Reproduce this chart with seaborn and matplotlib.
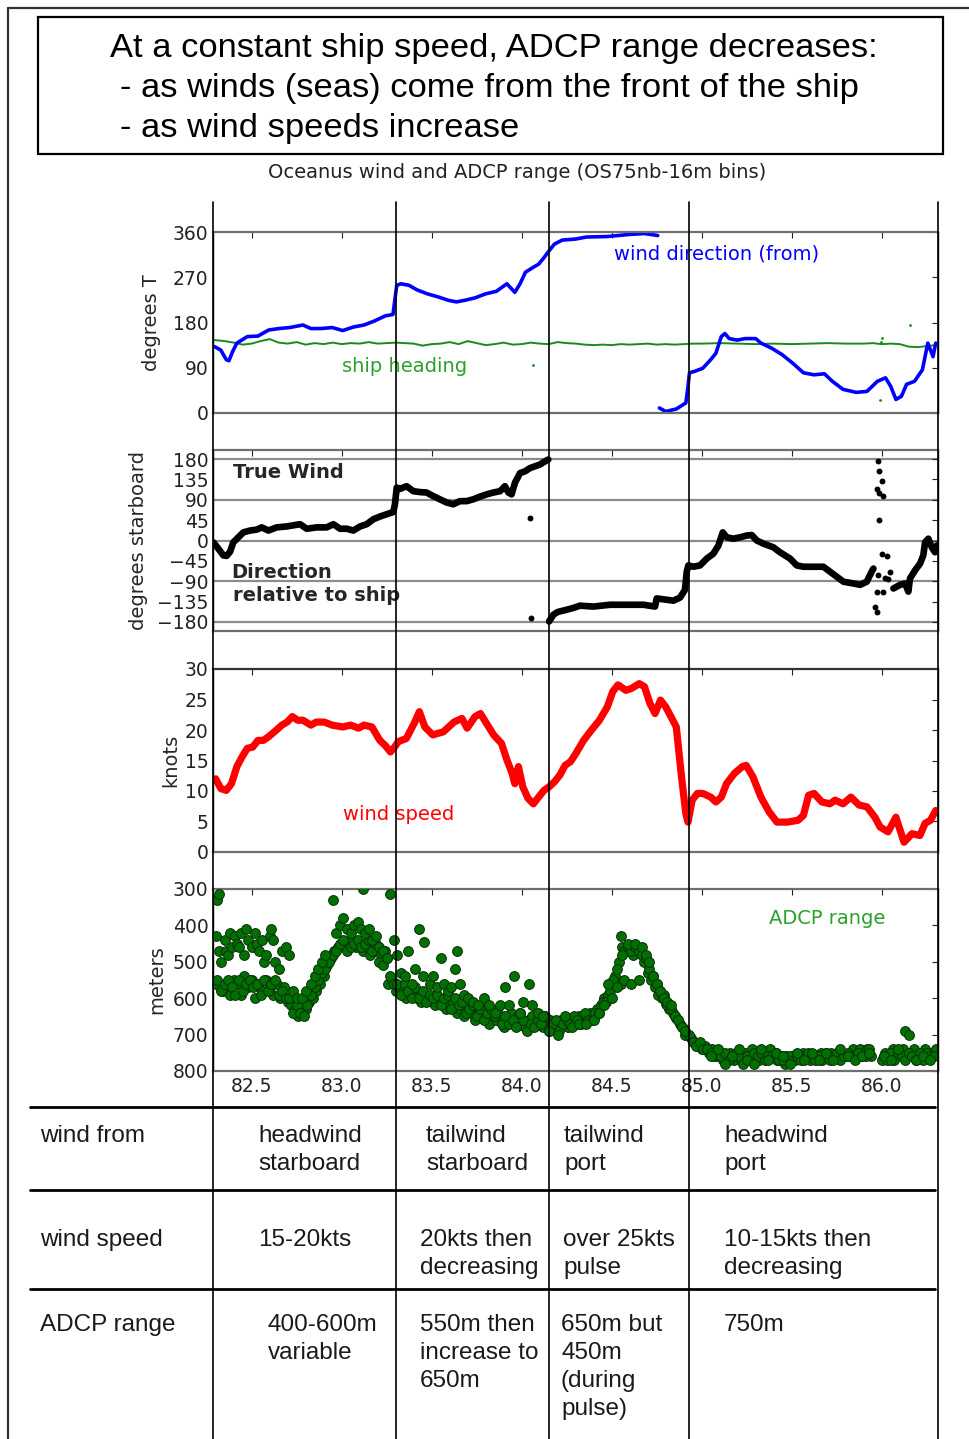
import matplotlib
matplotlib.use("Agg")
import matplotlib.pyplot as plt
from matplotlib.lines import Line2D
from matplotlib.patches import Rectangle
import pandas as pd
import seaborn as sns

# ---------------- data ----------------
# wind direction (degrees true, "from"); segment 1 starts after the 360 -> 0 wrap
wdir_time = [82.294, 82.329, 82.359, 82.374, 82.394, 82.418, 82.476, 82.535, 82.594, 82.653,
             82.712, 82.785, 82.829, 82.888, 82.947, 83.006, 83.065, 83.124, 83.182, 83.241,
             83.285, 83.306, 83.329, 83.374, 83.418, 83.476, 83.535, 83.594, 83.638, 83.682,
             83.741, 83.800, 83.859, 83.918, 83.962, 83.991, 84.021, 84.065, 84.094, 84.124,
             84.153, 84.182, 84.226, 84.300, 84.359, 84.476, 84.594, 84.682, 84.756,
             84.765, 84.800, 84.859, 84.912, 84.924, 84.932, 84.962, 85.006, 85.050, 85.079,
             85.109, 85.129, 85.153, 85.197, 85.241, 85.300, 85.329, 85.388, 85.447, 85.506,
             85.565, 85.624, 85.682, 85.726, 85.785, 85.859, 85.918, 85.947, 85.976, 86.021,
             86.050, 86.079, 86.109, 86.138, 86.182, 86.226, 86.256, 86.285, 86.300]
wdir_deg = [132, 125, 106, 104, 122, 139, 152, 153, 165, 168,
            170, 175, 168, 168, 170, 164, 171, 175, 183, 193,
            196, 254, 257, 254, 245, 237, 231, 224, 221, 224,
            229, 237, 242, 257, 240, 257, 280, 290, 296, 309,
            323, 336, 344, 346, 350, 351, 355, 357, 353,
            10, 3, 8, 20, 53, 80, 83, 89, 106, 119,
            152, 158, 148, 145, 148, 148, 139, 129, 116, 99,
            80, 76, 78, 63, 47, 41, 43, 53, 63, 70,
            53, 27, 33, 57, 63, 86, 139, 112, 139]
wdir_seg = [0] * 49 + [1] * 39

# ship heading (degrees true)
head_time = [82.294, 82.35, 82.40, 82.45, 82.50, 82.55, 82.60, 82.65, 82.70, 82.75,
             82.80, 82.85, 82.90, 82.95, 83.00, 83.05, 83.10, 83.15, 83.20, 83.25,
             83.30, 83.35, 83.40, 83.45, 83.50, 83.55, 83.60, 83.65, 83.70, 83.75,
             83.80, 83.85, 83.90, 83.95, 84.00, 84.05, 84.10, 84.15, 84.20, 84.25,
             84.30, 84.35, 84.40, 84.45, 84.50, 84.55, 84.60, 84.65, 84.70, 84.75,
             84.80, 84.85, 84.90, 84.95, 85.00, 85.10, 85.20, 85.30, 85.40, 85.50,
             85.60, 85.70, 85.80, 85.90, 85.95, 86.00, 86.05, 86.10, 86.15, 86.20,
             86.25, 86.30]
head_deg = [145, 143, 140, 136, 138, 143, 147, 140, 138, 141,
            136, 139, 137, 140, 137, 139, 138, 141, 138, 139,
            140, 139, 138, 134, 137, 138, 141, 137, 143, 139,
            135, 137, 140, 136, 137, 140, 138, 137, 141, 139,
            138, 136, 135, 136, 135, 137, 136, 137, 138, 136,
            137, 136, 137, 138, 138, 139, 138, 137, 138, 137,
            138, 139, 138, 138, 139, 137, 138, 137, 132, 131,
            133, 135]
head_stray_time = [84.065, 85.990, 85.996, 86.004, 86.155]
head_stray_deg = [96, 26, 141, 150, 175]

# true wind direction relative to ship (degrees, + = starboard)
rel_time = [82.287, 82.315, 82.343, 82.361, 82.380, 82.398, 82.426, 82.454, 82.491, 82.528,
            82.556, 82.593, 82.639, 82.694, 82.769, 82.806, 82.861, 82.917, 82.954, 82.991,
            83.028, 83.065, 83.102, 83.139, 83.176, 83.213, 83.250, 83.287, 83.296, 83.306,
            83.324, 83.361, 83.398, 83.435, 83.472, 83.509, 83.546, 83.583, 83.620, 83.657,
            83.694, 83.731, 83.769, 83.806, 83.843, 83.880, 83.907, 83.926, 83.944, 83.963,
            83.991, 84.019, 84.046, 84.074, 84.102, 84.130, 84.148,
            84.152, 84.176, 84.200, 84.250, 84.287, 84.324, 84.398, 84.491, 84.583, 84.676,
            84.741, 84.750, 84.787, 84.843, 84.880, 84.907, 84.917, 84.926, 84.954, 84.991,
            85.028, 85.065, 85.093, 85.117, 85.139, 85.176, 85.213, 85.250, 85.278, 85.306,
            85.343, 85.398, 85.435, 85.491, 85.528, 85.565, 85.620, 85.676, 85.713, 85.750,
            85.787, 85.843, 85.880, 85.917, 85.944, 85.954,
            86.065, 86.102, 86.130, 86.148, 86.157, 86.185, 86.213, 86.231, 86.241, 86.259,
            86.278, 86.296, 86.306]
rel_deg = [-4, -18, -33, -34, -25, -4, 7, 18, 22, 24,
           29, 22, 29, 31, 36, 26, 29, 29, 36, 26,
           26, 22, 31, 36, 47, 53, 58, 63, 80, 117,
           114, 120, 109, 107, 106, 98, 91, 84, 80, 87,
           87, 91, 97, 102, 106, 109, 120, 106, 102, 128,
           149, 153, 160, 164, 168, 175, 179,
           -179, -164, -158, -153, -149, -144, -146, -142, -142, -142,
           -146, -128, -130, -133, -126, -109, -69, -55, -58, -55,
           -40, -29, -11, 18, 7, 4, 7, 11, 12, 0,
           -7, -15, -26, -40, -55, -58, -58, -58, -69, -80,
           -91, -95, -98, -91, -69, -62,
           -106, -98, -95, -113, -84, -66, -51, -33, -4, 4,
           -15, -26, -11]
rel_seg = [0] * 57 + [1] * 46 + [2] * 13
rel_stray_time = [84.046, 84.052, 85.981, 85.987, 86.000, 85.972, 85.987, 86.009, 85.987,
                  86.000, 86.028, 86.046, 85.981, 86.019, 86.037, 85.972, 86.009, 85.963, 85.976]
rel_stray_deg = [50, -172, 175, 153, 131, 113, 106, 98, 45,
                 -29, -34, -69, -77, -82, -84, -113, -114, -146, -158]

# wind speed (knots)
spd_time = [82.300, 82.329, 82.359, 82.388, 82.418, 82.447, 82.476, 82.506, 82.535, 82.565,
            82.594, 82.638, 82.668, 82.697, 82.726, 82.756, 82.785, 82.829, 82.859, 82.903,
            82.947, 83.006, 83.050, 83.094, 83.124, 83.168, 83.212, 83.241, 83.271, 83.294,
            83.315, 83.359, 83.403, 83.432, 83.462, 83.506, 83.565, 83.624, 83.668, 83.697,
            83.741, 83.771, 83.800, 83.844, 83.888, 83.918, 83.947, 83.962, 83.982, 84.006,
            84.035, 84.065, 84.094, 84.124, 84.153, 84.182, 84.212, 84.241, 84.271, 84.300,
            84.344, 84.388, 84.432, 84.476, 84.506, 84.535, 84.579, 84.609, 84.653, 84.682,
            84.712, 84.741, 84.771, 84.800, 84.829, 84.859, 84.888, 84.912, 84.924, 84.947,
            84.976, 85.006, 85.050, 85.079, 85.109, 85.138, 85.182, 85.226, 85.247, 85.285,
            85.329, 85.374, 85.418, 85.476, 85.535, 85.565, 85.594, 85.624, 85.668, 85.712,
            85.741, 85.785, 85.829, 85.874, 85.918, 85.962, 85.991, 86.035, 86.079, 86.124,
            86.168, 86.212, 86.241, 86.271, 86.300]
spd_kts = [12.0, 10.4, 10.1, 11.2, 14.0, 15.6, 17.0, 17.2, 18.3, 18.3,
           18.9, 20.0, 20.8, 21.3, 22.2, 21.6, 21.6, 20.8, 21.3, 21.3,
           20.8, 20.5, 20.8, 20.3, 20.8, 20.5, 18.3, 17.5, 16.4, 17.2,
           18.1, 18.6, 21.1, 23.0, 20.5, 19.2, 19.7, 21.3, 21.9, 20.3,
           22.2, 22.7, 21.3, 19.2, 17.8, 15.1, 12.9, 11.2, 14.0, 10.7,
           8.8, 7.9, 9.0, 10.1, 10.7, 11.5, 12.6, 14.2, 14.8, 16.1,
           18.3, 20.0, 21.6, 23.8, 26.3, 27.4, 26.5, 26.8, 27.6, 27.1,
           24.4, 22.7, 24.9, 23.8, 22.2, 20.5, 12.3, 6.3, 4.9, 8.5,
           9.6, 9.6, 9.0, 8.2, 9.0, 11.2, 12.9, 14.0, 14.2, 12.3,
           9.0, 6.6, 4.9, 4.9, 5.2, 6.0, 9.3, 9.6, 8.2, 7.9,
           8.5, 7.9, 9.0, 7.7, 7.4, 5.7, 4.1, 3.3, 5.7, 1.6,
           3.0, 2.7, 4.7, 5.2, 6.8]

# ADCP range (meters), first return set on even hundredths ...
adcp_time = [82.30, 82.32, 82.34, 82.36, 82.38, 82.40, 82.42, 82.44, 82.46, 82.48,
             82.50, 82.52, 82.54, 82.56, 82.58, 82.60, 82.62, 82.64, 82.66, 82.68,
             82.70, 82.72, 82.74, 82.76, 82.78, 82.80, 82.82, 82.84, 82.86, 82.88,
             82.90, 82.92, 82.94, 82.96, 82.98, 83.00, 83.02, 83.04, 83.06, 83.08,
             83.10, 83.12, 83.14, 83.16, 83.18, 83.20, 83.22, 83.24, 83.26, 83.28,
             83.30, 83.32, 83.34, 83.36, 83.38, 83.40, 83.42, 83.44, 83.46, 83.48,
             83.50, 83.52, 83.54, 83.56, 83.58, 83.60, 83.62, 83.64, 83.66, 83.68,
             83.70, 83.72, 83.74, 83.76, 83.78, 83.80, 83.82, 83.84, 83.86, 83.88,
             83.90, 83.92, 83.94, 83.96, 83.98, 84.00, 84.02, 84.04, 84.06, 84.08,
             84.10, 84.12, 84.14, 84.16, 84.18, 84.20, 84.22, 84.24, 84.26, 84.28,
             84.30, 84.32, 84.34, 84.36, 84.38, 84.40, 84.42, 84.44, 84.46, 84.48,
             84.50, 84.52, 84.54, 84.56, 84.58, 84.60, 84.62, 84.64, 84.66, 84.68,
             84.70, 84.72, 84.74, 84.76, 84.78, 84.80, 84.82, 84.84, 84.86, 84.88,
             84.90, 84.92, 84.94, 84.96, 84.98, 85.00, 85.02, 85.04, 85.06, 85.08,
             85.10, 85.12, 85.14, 85.16, 85.18, 85.20, 85.22, 85.24, 85.26, 85.28,
             85.30, 85.32, 85.34, 85.36, 85.38, 85.40, 85.42, 85.44, 85.46, 85.48,
             85.50, 85.52, 85.54, 85.56, 85.58, 85.60, 85.62, 85.64, 85.66, 85.68,
             85.70, 85.72, 85.74, 85.76, 85.78, 85.80, 85.82, 85.84, 85.86, 85.88,
             85.90, 85.92, 85.94,
             86.00, 86.02, 86.04, 86.06, 86.08, 86.10, 86.12, 86.14, 86.16, 86.18,
             86.20, 86.22, 86.24, 86.26, 86.28, 86.30]
adcp_range = [560, 470, 580, 470, 590, 550, 560, 590, 540, 570,
              550, 600, 560, 580, 550, 570, 590, 560, 600, 570,
              610, 620, 630, 650, 640, 630, 610, 600, 580, 560,
              540, 510, 490, 470, 460, 450, 460, 450, 440, 460,
              450, 470, 460, 480, 470, 460, 480, 470, 560, 550,
              580, 570, 590, 600, 580, 590, 600, 610, 590, 600,
              610, 620, 600, 610, 630, 620, 610, 640, 630, 650,
              620, 640, 660, 640, 630, 650, 670, 640, 660, 650,
              680, 660, 640, 660, 650, 670, 680, 660, 650, 670,
              660, 680, 670, 660, 670, 680, 660, 670, 680, 660,
              670, 650, 660, 650, 640, 650, 630, 620, 600, 590,
              570, 540, 500, 460, 470, 460, 480, 460, 470, 500,
              530, 550, 570, 590, 600, 615, 630, 640, 655, 670,
              685, 700, 710, 720, 730, 740, 730, 750, 740, 760,
              750, 770, 760, 750, 770, 760, 770, 750, 760, 740,
              760, 770, 750, 760, 740, 760, 770, 760, 780, 770,
              760, 770, 760, 750, 760, 770, 760, 760, 750, 760,
              760, 750, 760, 760, 750, 760, 750, 740, 760, 740,
              750, 740, 760,
              770, 750, 760, 740, 760, 750, 740, 760, 750, 740,
              760, 750, 740, 760, 750, 740]
# ... second return set on odd hundredths ...
adcp_fill_time = [82.31, 82.33, 82.35, 82.37, 82.39, 82.41, 82.43, 82.45, 82.47, 82.49,
                  82.51, 82.53, 82.55, 82.57, 82.59, 82.61, 82.63, 82.65, 82.67, 82.69,
                  82.71, 82.73, 82.75, 82.77, 82.79, 82.81, 82.83, 82.85, 82.87, 82.89,
                  82.91, 82.93, 82.95, 82.97, 82.99, 83.01, 83.03, 83.05, 83.07, 83.09,
                  83.11, 83.13, 83.15, 83.17, 83.19, 83.21, 83.23, 83.25, 83.27, 83.29,
                  83.31, 83.33, 83.35, 83.37, 83.39, 83.41, 83.43, 83.45, 83.47, 83.49,
                  83.51, 83.53, 83.55, 83.57, 83.59, 83.61, 83.63, 83.65, 83.67, 83.69,
                  83.71, 83.73, 83.75, 83.77, 83.79, 83.81, 83.83, 83.85, 83.87, 83.89,
                  83.91, 83.93, 83.95, 83.97, 83.99, 84.01, 84.03, 84.05, 84.07, 84.09,
                  84.11, 84.13, 84.15, 84.17, 84.19, 84.21, 84.23, 84.25, 84.27, 84.29,
                  84.31, 84.33, 84.35, 84.37, 84.39, 84.41, 84.43, 84.45, 84.47, 84.49,
                  84.51, 84.53, 84.55, 84.57, 84.59, 84.61, 84.63, 84.65, 84.67, 84.69,
                  84.71, 84.73, 84.75, 84.77, 84.79, 84.81, 84.83, 84.85, 84.87, 84.89,
                  84.91, 84.93, 84.95, 84.97, 84.99, 85.01, 85.03, 85.05, 85.07, 85.09,
                  85.11, 85.13, 85.15, 85.17, 85.19, 85.21, 85.23, 85.25, 85.27, 85.29,
                  85.31, 85.33, 85.35, 85.37, 85.39, 85.41, 85.43, 85.45, 85.47, 85.49,
                  85.51, 85.53, 85.55, 85.57, 85.59, 85.61, 85.63, 85.65, 85.67, 85.69,
                  85.71, 85.73, 85.75, 85.77, 85.79, 85.81, 85.83, 85.85, 85.87, 85.89,
                  85.91, 85.93,
                  86.01, 86.03, 86.05, 86.07, 86.09, 86.11, 86.13, 86.15, 86.17, 86.19,
                  86.21, 86.23, 86.25, 86.27, 86.29]
adcp_fill_range = [550, 580, 560, 550, 570, 590, 550, 580, 560, 550,
                   570, 560, 590, 550, 580, 560, 550, 590, 580, 600,
                   600, 640, 620, 640, 650, 620, 590, 570, 550, 530,
                   520, 500, 480, 470, 450, 440, 470, 460, 450, 440,
                   460, 450, 440, 470, 450, 460, 470, 490, 540, 560,
                   560, 590, 560, 580, 600, 570, 600, 580, 610, 590,
                   600, 590, 620, 600, 590, 630, 600, 620, 610, 640,
                   630, 620, 650, 630, 660, 640, 630, 650, 640, 670,
                   650, 670, 660, 680, 640, 660, 690, 670, 680, 660,
                   670, 650, 690, 670, 660, 690, 670, 660, 670, 650,
                   660, 670, 640, 660, 660, 640, 640, 610, 610, 580,
                   550, 520, 560, 470, 460, 470, 460, 470, 480, 490,
                   520, 540, 560, 580, 590, 620, 630, 650, 660, 680,
                   700, 700, 720, 730, 720, 740, 740, 750, 760, 750,
                   760, 750, 770, 760, 750, 760, 780, 760, 770, 750,
                   760, 750, 770, 760, 760, 750, 770, 770, 760, 760,
                   770, 760, 770, 760, 750, 760, 770, 760, 770, 750,
                   770, 760, 750, 770, 760, 750, 760, 760, 750, 760,
                   760, 740,
                   760, 770, 750, 770, 750, 760, 770, 750, 760, 770,
                   750, 770, 750, 760, 760]
# ... plus the stray returns scattered around the main band
adcp_extra_time = [82.30, 82.31, 82.32, 82.33, 82.35, 82.37, 82.38, 82.39, 82.41, 82.42,
                   82.43, 82.44, 82.46, 82.47, 82.48, 82.50, 82.52, 82.53, 82.54, 82.56,
                   82.57, 82.58, 82.60, 82.61, 82.62, 82.63, 82.65, 82.67, 82.69, 82.71,
                   82.73, 82.75, 82.78, 82.80, 82.83, 82.85, 82.87, 82.89, 82.91, 82.95,
                   82.97, 82.99, 83.01, 83.03, 83.05, 83.07, 83.09, 83.11, 83.12, 83.13,
                   83.15, 83.17, 83.19, 83.21, 83.23, 83.25, 83.27, 83.29, 83.31,
                   83.33, 83.35, 83.37, 83.39, 83.41, 83.43, 83.45, 83.46, 83.49, 83.51,
                   83.53, 83.55, 83.57, 83.59, 83.61, 83.63, 83.64, 83.66, 83.68, 83.70,
                   83.73, 83.76, 83.79, 83.82, 83.85, 83.88, 83.91, 83.93, 83.96, 83.99,
                   84.01, 84.04, 84.06, 84.09, 84.12, 84.15,
                   84.20, 84.24, 84.28, 84.32, 84.36, 84.40, 84.43, 84.46, 84.48, 84.50,
                   84.53, 84.55, 84.56, 84.57, 84.59, 84.61, 84.63, 84.65, 84.67, 84.69,
                   84.71, 84.73, 84.75, 84.77, 84.79, 84.81, 84.83, 84.85, 84.87, 84.89,
                   84.91,
                   85.05, 85.09, 85.13, 85.17, 85.21, 85.25, 85.29, 85.33, 85.37, 85.41,
                   85.45, 85.49, 85.53, 85.57, 85.61, 85.65, 85.69, 85.73, 85.77, 85.81,
                   85.85, 85.89, 85.93, 86.01, 86.05, 86.09, 86.13, 86.15, 86.19, 86.23,
                   86.27]
adcp_extra_range = [430, 330, 315, 500, 440, 480, 420, 460, 430, 450,
                    460, 420, 480, 410, 440, 460, 420, 450, 470, 440,
                    500, 480, 430, 410, 440, 500, 520, 470, 460, 480,
                    580, 600, 600, 580, 560, 540, 520, 500, 480, 330,
                    420, 400, 380, 410, 420, 400, 390, 410, 300, 420,
                    410, 440, 430, 500, 510, 490, 315, 440, 480,
                    530, 540, 470, 560, 520, 410, 540, 445, 560, 540,
                    570, 490, 560, 580, 570, 520, 470, 560, 590, 600,
                    610, 620, 600, 620, 640, 620, 570, 620, 540, 640,
                    610, 560, 620, 640, 650, 690,
                    700, 650, 680, 670, 670, 660, 640, 620, 560, 600,
                    570, 430, 480, 550, 450, 560, 450, 550, 460, 480,
                    500, 540, 560, 580, 600, 610, 620, 650, 660, 680,
                    690,
                    760, 740, 780, 760, 740, 770, 780, 740, 770, 750,
                    760, 780, 750, 770, 750, 770, 750, 770, 740, 760,
                    770, 760, 750, 760, 770, 740, 690, 700, 770, 760,
                    770]

# boundaries between the wind regimes summarised in the table
section_edges = [83.302, 84.152, 84.930]

table_rows = ["wind from", "wind speed", "ADCP range"]
table_cells = [
    [["headwind", "starboard"], ["tailwind", "starboard"], ["tailwind", "port"], ["headwind", "port"]],
    [["15-20kts"], ["20kts then", "decreasing"], ["over 25kts", "pulse"], ["10-15kts then", "decreasing"]],
    [["400-600m", "variable"], ["550m then", "increase to", "650m"],
     ["650m but", "450m", "(during", "pulse)"], ["750m"]],
]

title_lines = ["At a constant ship speed, ADCP range decreases:",
               "- as winds (seas) come from the front of the ship",
               "- as wind speeds increase"]
subtitle = "Oceanus wind and ADCP range (OS75nb-16m bins)"

# ---------------- style ----------------
sns.set_theme(style="white")
plt.rcParams.update({
    "font.family": ["DejaVu Sans"],
    "axes.unicode_minus": True,
    "xtick.direction": "in",
    "ytick.direction": "in",
    "xtick.top": True,
    "ytick.right": True,
    "xtick.major.size": 4,
    "ytick.major.size": 4,
    "xtick.major.width": 0.8,
    "ytick.major.width": 0.8,
    "xtick.color": "#222222",
    "ytick.color": "#222222",
    "xtick.labelsize": 13.5,
    "ytick.labelsize": 13.5,
    "axes.labelsize": 14,
})
SLIDE_FONT = ["Liberation Sans", "DejaVu Sans"]

W, H = 970, 1439
fig = plt.figure(figsize=(W / 100, H / 100), dpi=100)
fig.patch.set_facecolor("white")


def fx(px):
    return px / W


def fy(py):
    return 1 - py / H


AX_L, AX_R = 213.3, 937.7
XLIM = (82.287, 86.311)


def make_panel(top, bottom):
    ax = fig.add_axes([fx(AX_L), fy(bottom), (AX_R - AX_L) / W, (bottom - top) / H])
    ax.set_xlim(*XLIM)
    ax.set_xticks([82.5, 83.0, 83.5, 84.0, 84.5, 85.0, 85.5, 86.0])
    ax.tick_params(axis="x", labelbottom=False, pad=4)
    for side in ("top", "bottom"):
        ax.spines[side].set_color("#6e6e6e")
        ax.spines[side].set_linewidth(1.6)
    for side in ("left", "right"):
        ax.spines[side].set_color("black")
        ax.spines[side].set_linewidth(1.0)
    return ax


def seg_line(ax, t, v, seg, color, lw, **kw):
    df = pd.DataFrame({"t": t, "v": v, "seg": seg})
    sns.lineplot(data=df, x="t", y="v", units="seg", estimator=None, sort=False,
                 color=color, lw=lw, ax=ax, legend=False, **kw)


# ---- panel 1: wind direction and ship heading ----
ax1 = make_panel(232, 413)
seg_line(ax1, head_time, head_deg, [0] * len(head_time), "#1a8a1a", 1.4)
sns.scatterplot(x=head_stray_time, y=head_stray_deg, ax=ax1, color="#1a8a1a", s=4,
                linewidth=0, legend=False)
seg_line(ax1, wdir_time, wdir_deg, wdir_seg, "#0000ff", 2.6)
ax1.set_ylim(0, 360)
ax1.set_yticks([0, 90, 180, 270, 360])
ax1.set_ylabel("degrees T")
ax1.set_xlabel("")
ax1.yaxis.set_label_coords(-0.072, 0.5)
ax1.text(84.512, 316, "wind direction (from)", color="#0000ff", fontsize=14,
         ha="left", va="center")
ax1.text(83.0, 93, "ship heading", color="#2ca02c", fontsize=14, ha="left", va="center")

# ---- panel 2: relative wind direction ----
ax2 = make_panel(450, 631)
for g in (-180, -90, 0, 90, 180):
    ax2.axhline(g, color="#8c8c8c", lw=1.6, zorder=0)
seg_line(ax2, rel_time, rel_deg, rel_seg, "black", 4.8)
sns.scatterplot(x=rel_stray_time, y=rel_stray_deg, ax=ax2, color="black", s=18,
                linewidth=0, legend=False)
ax2.set_ylim(-200, 200)
ax2.set_yticks([-180, -135, -90, -45, 0, 45, 90, 135, 180])
ax2.set_ylabel("degrees starboard")
ax2.set_xlabel("")
ax2.yaxis.set_label_coords(-0.090, 0.5)
ax2.text(82.394, 151, "True Wind", fontsize=14, fontweight="bold", ha="left", va="center")
ax2.text(82.389, -70, "Direction", fontsize=14, fontweight="bold", ha="left", va="center")
ax2.text(82.394, -121, "relative to ship", fontsize=14, fontweight="bold",
         ha="left", va="center")

# ---- panel 3: wind speed ----
ax3 = make_panel(669, 852)
seg_line(ax3, spd_time, spd_kts, [0] * len(spd_time), "#ff0000", 5.2)
ax3.set_ylim(0, 30)
ax3.set_yticks([0, 5, 10, 15, 20, 25, 30])
ax3.spines["top"].set_color("#333333")
ax3.set_ylabel("knots")
ax3.set_xlabel("")
ax3.yaxis.set_label_coords(-0.046, 0.5)
ax3.text(83.005, 6.2, "wind speed", color="#ff0000", fontsize=14, ha="left", va="center")

# ---- panel 4: ADCP range ----
ax4 = make_panel(889, 1071)
adcp = pd.DataFrame({"t": adcp_time + adcp_fill_time + adcp_extra_time,
                     "r": adcp_range + adcp_fill_range + adcp_extra_range})
sns.scatterplot(data=adcp, x="t", y="r", ax=ax4, color="#007000", edgecolor="#0a300a",
                linewidth=0.7, s=50, legend=False, zorder=3)
ax4.set_ylim(800, 300)
ax4.set_yticks([300, 400, 500, 600, 700, 800])
ax4.set_ylabel("meters")
ax4.set_xlabel("")
ax4.yaxis.set_label_coords(-0.065, 0.5)
ax4.tick_params(axis="x", labelbottom=True)
ax4.text(85.372, 380, "ADCP range", color="#2ca02c", fontsize=14, ha="left", va="center")

# ---- vertical regime separators running down through the table ----
ov = fig.add_axes([fx(AX_L), 0, (AX_R - AX_L) / W, (H - 202) / H])
ov.set_xlim(*XLIM)
ov.set_ylim(0, 1)
ov.axis("off")
ov.patch.set_alpha(0)
ov.set_zorder(20)
for xe in [XLIM[0]] + section_edges + [XLIM[1]]:
    ov.axvline(xe, color="black", lw=1.2, clip_on=False)

# ---- slide frame, title box and subtitle ----
fig.add_artist(Line2D([fx(8), fx(8)], [fy(8), 0], color="#333333", lw=1.6))
fig.add_artist(Line2D([fx(8), 1], [fy(8), fy(8)], color="#333333", lw=1.6))
fig.add_artist(Rectangle((fx(38), fy(154)), fx(943) - fx(38), (154 - 17) / H,
                         fill=False, lw=1.6, ec="black", transform=fig.transFigure))
for (x0, y0), line in zip([(110, 48), (120, 88), (120, 128)], title_lines):
    fig.text(fx(x0), fy(y0), line, ha="left", va="center", fontsize=24.8,
             family=SLIDE_FONT, color="black")
fig.text(fx(517), fy(172), subtitle, ha="center", va="center", fontsize=14, color="#222222")

# ---- summary table ----
for yl in (1107, 1190, 1289):
    fig.add_artist(Line2D([fx(30), fx(935)], [fy(yl), fy(yl)], color="black", lw=2.0))

row_y = [1136, 1240, 1325]
col_x = [[258, 426, 564, 724], [258, 420, 563, 724], [268, 420, 561, 724]]
LINE_STEP = 28
for r, name in enumerate(table_rows):
    fig.text(fx(40), fy(row_y[r]), name, ha="left", va="center", fontsize=17.5,
             family=SLIDE_FONT, color="#1a1a1a")
    for c, cell in enumerate(table_cells[r]):
        for k, txt in enumerate(cell):
            fig.text(fx(col_x[r][c]), fy(row_y[r] + k * LINE_STEP), txt, ha="left",
                     va="center", fontsize=17.5, family=SLIDE_FONT, color="#1a1a1a")

fig.savefig("out.png", dpi=100, facecolor="white")
